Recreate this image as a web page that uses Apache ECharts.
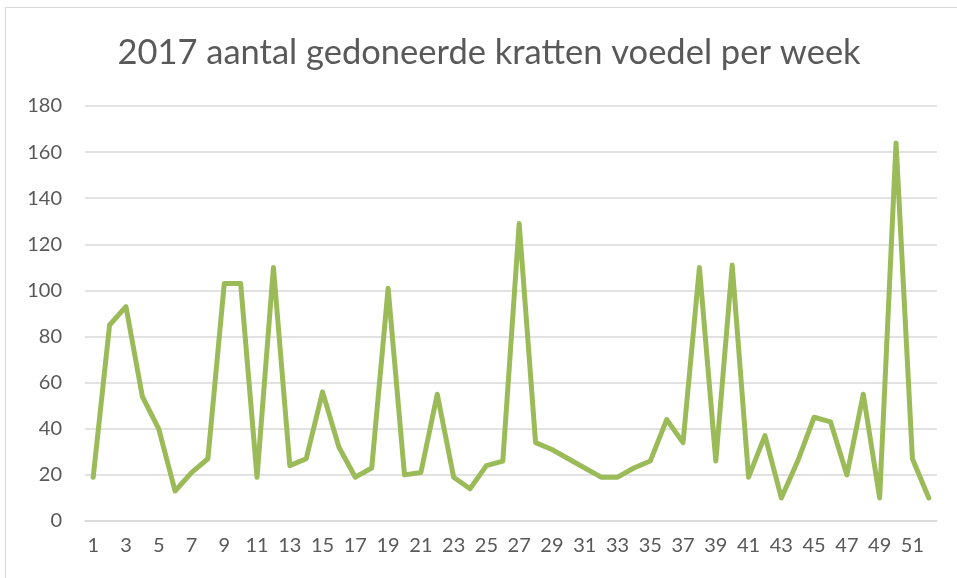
<!DOCTYPE html>
<html>
<head>
<meta charset="utf-8">
<script src="https://cdn.jsdelivr.net/npm/echarts@6/dist/echarts.min.js"></script>
<style>
  html, body { margin: 0; padding: 0; background: #fff; }
  #frame {
    position: absolute; left: 5px; top: 7px; width: 960px; height: 600px;
    border: 1px solid #d9d9d9; box-sizing: border-box;
  }
  #chart { position: absolute; left: 0; top: 0; width: 957px; height: 578px; }
</style>
</head>
<body>
<div id="frame"></div>
<div id="chart"></div>
<script>
  // weeks 1..52
  const weeks = [];
  for (let w = 1; w <= 52; w++) weeks.push(String(w));

  // aantal kratten per week
  const kratten = [
    19, 85, 93, 54, 40, 13, 21, 27, 103, 103,
    19, 110, 24, 27, 56, 32, 19, 23, 101, 20,
    21, 55, 19, 14, 24, 26, 129, 34, 31, 27,
    23, 19, 19, 23, 26, 44, 34, 110, 26, 111,
    19, 37, 10, 26, 45, 43, 20, 55, 10, 164,
    27, 10
  ];

  const titleText = '2017 aantal gedoneerde kratten voedel per week';

  const chart = echarts.init(document.getElementById('chart'));
  chart.setOption({
    animation: false,
    title: {
      text: titleText,
      left: 484,
      textAlign: 'center',
      top: 30,
      textStyle: {
        fontFamily: 'Lato',
        fontWeight: 'normal',
        fontSize: 34.5,
        color: '#595959'
      }
    },
    grid: { left: 85, right: 20, top: 106, bottom: 57 },
    xAxis: {
      type: 'category',
      data: weeks,
      boundaryGap: true,
      axisTick: { show: false },
      axisLine: { lineStyle: { color: '#d9d9d9', width: 1.5 } },
      axisLabel: {
        interval: 1,
        margin: 15,
        fontFamily: 'Lato',
        fontSize: 20,
        color: '#595959'
      }
    },
    yAxis: {
      type: 'value',
      min: 0,
      max: 180,
      interval: 20,
      axisLine: { show: false },
      axisTick: { show: false },
      splitLine: { lineStyle: { color: '#d9d9d9', width: 1.5 } },
      axisLabel: {
        margin: 23,
        fontFamily: 'Lato',
        fontSize: 20,
        color: '#595959'
      }
    },
    series: [{
      type: 'line',
      data: kratten,
      symbol: 'none',
      lineStyle: { color: '#9bbb59', width: 5, join: 'round', cap: 'round' }
    }]
  });
</script>
</body>
</html>
